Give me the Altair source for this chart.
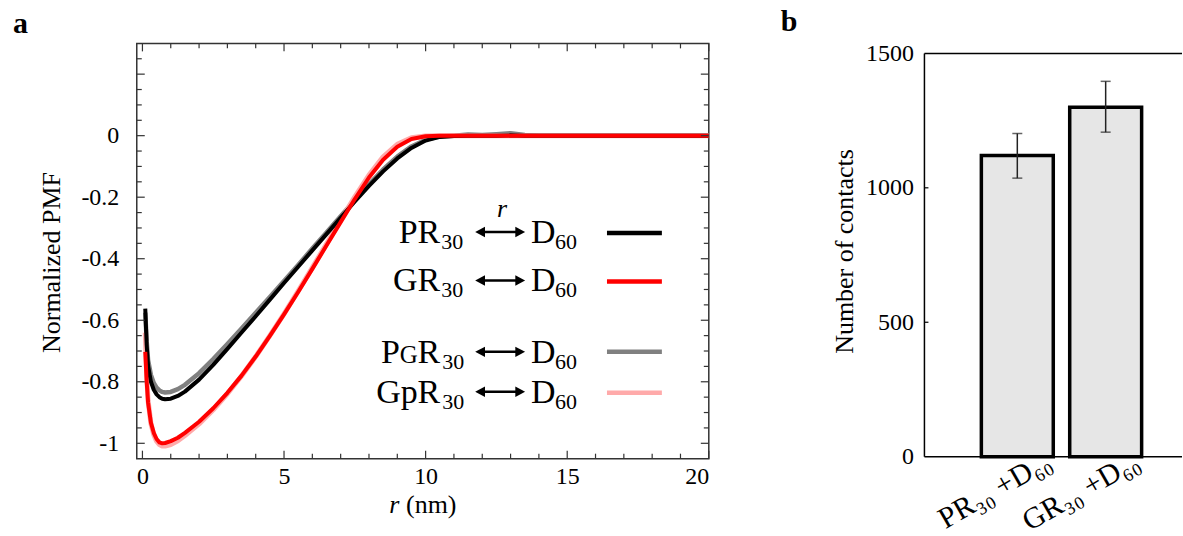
import altair as alt
import pandas as pd

# ---------------- data ----------------
r_nm = [0.1, 0.15, 0.2, 0.3, 0.4, 0.5, 0.6, 0.7, 0.8, 1.0, 1.25, 1.5, 2.0, 2.5, 3.0,
        3.5, 4.0, 4.5, 5.0, 5.5, 6.0, 6.5, 7.0, 7.5, 8.0, 8.5, 9.0, 9.5, 10.0, 10.5,
        11.0, 11.5, 12.0, 12.5, 13.0, 13.5, 14.0, 15.0, 16.0, 17.0, 18.0, 19.0, 20.0]

pmf_PR30 = [-0.562, -0.680, -0.748, -0.800, -0.826, -0.841, -0.850, -0.855, -0.857, -0.855,
            -0.846, -0.832, -0.793, -0.745, -0.693, -0.640, -0.587, -0.533, -0.479, -0.426,
            -0.373, -0.320, -0.267, -0.214, -0.163, -0.116, -0.074, -0.040, -0.016, -0.004,
            -0.001, 0.0, 0.0, 0.0, 0.001, 0.0, 0.0, 0.0, 0.0, 0.0, 0.0, 0.0, 0.0]
pmf_GR30 = [-0.703, -0.800, -0.868, -0.933, -0.966, -0.986, -0.997, -1.000, -0.999, -0.993,
            -0.982, -0.966, -0.930, -0.886, -0.836, -0.780, -0.718, -0.651, -0.581, -0.508,
            -0.433, -0.357, -0.281, -0.206, -0.136, -0.078, -0.036, -0.011, -0.002, 0.0,
            0.0, 0.0, 0.0, 0.0, 0.0, 0.0, 0.0, 0.0, 0.0, 0.0, 0.0, 0.0, 0.0]
pmf_PgR30 = [-0.575, -0.668, -0.730, -0.778, -0.804, -0.819, -0.828, -0.833, -0.835, -0.833,
             -0.824, -0.810, -0.772, -0.726, -0.677, -0.627, -0.576, -0.524, -0.472, -0.420,
             -0.367, -0.315, -0.262, -0.210, -0.158, -0.110, -0.068, -0.035, -0.013, -0.003,
             0.0, 0.004, 0.002, 0.005, 0.008, 0.002, 0.0, 0.0, 0.0, 0.0, 0.0, 0.0, 0.0]
pmf_GpR30 = [-0.640, -0.775, -0.862, -0.936, -0.972, -0.993, -1.004, -1.009, -1.009, -1.004,
             -0.992, -0.975, -0.937, -0.891, -0.839, -0.781, -0.718, -0.650, -0.579, -0.505,
             -0.429, -0.352, -0.275, -0.199, -0.128, -0.069, -0.028, -0.007, -0.001, 0.0,
             0.0, 0.0, 0.0, 0.0, 0.0, 0.0, 0.0, 0.0, 0.0, 0.0, 0.0, 0.0, 0.0]

series_names = ["PR30", "GR30", "PgR30", "GpR30"]
series_colors = ["#000000", "#ff0000", "#808080", "#ffaaaa"]

x_tick_values = [0, 1, 2, 3, 4, 5, 6, 7, 8, 9, 10, 11, 12, 13, 14, 15, 16, 17, 18, 19, 20]
x_label_values = [0, 5, 10, 15, 20]
y_tick_values = [-1.0, -0.95, -0.9, -0.85, -0.8, -0.75, -0.7, -0.65, -0.6, -0.55, -0.5,
                 -0.45, -0.4, -0.35, -0.3, -0.25, -0.2, -0.15, -0.1, -0.05, 0.0, 0.05,
                 0.1, 0.15, 0.2, 0.25]
y_major_values = [-1.0, -0.8, -0.6, -0.4, -0.2, 0.0, 0.2]
y_label_values = [-1, -0.8, -0.6, -0.4, -0.2, 0]

contact_cats = ["PR₃₀ +D₆₀", "GR₃₀ +D₆₀"]
contact_mean = [1120, 1300]
contact_lo = [1036, 1207]
contact_hi = [1202, 1396]
contact_label_values = [0, 500, 1000, 1500]
contact_inner_ticks = [500, 1000]

# legend (panel a) text
legend_prefix = [["PR"], ["GR"], ["P", "G", "R"], ["GpR"]]
legend_sub = "30"
legend_target = "D"
legend_target_sub = "60"

# ---------------- geometry / style ----------------
FONT = "Liberation Serif, Times New Roman, serif"
W_A, H_A = 573, 416
W_B, H_B = 258, 416
X_DOM = [-0.2, 20]
Y_DOM = [-1.05, 0.3]
XU = (X_DOM[1] - X_DOM[0]) / W_A   # data units per pixel
YU = (Y_DOM[1] - Y_DOM[0]) / H_A

xs = alt.Scale(domain=X_DOM, nice=False, zero=False)
ys = alt.Scale(domain=Y_DOM, nice=False, zero=False)
ax_x = alt.Axis(values=x_label_values, ticks=False, domain=False, grid=False,
                labelFont=FONT, labelFontSize=24, labelPadding=6, title=None,
                labelColor="black")
ax_y = alt.Axis(values=y_label_values, format="~g",
                labelExpr="replace(datum.label, '\u2212', '-')",
                ticks=False, domain=False, grid=False, labelFont=FONT, labelFontSize=24,
                labelPadding=18, title="Normalized PMF", titleFont=FONT, titleFontSize=26,
                titleFontWeight="normal", titlePadding=16, titleY=219, labelColor="black",
                titleColor="black")


def X(field="r"):
    return alt.X(f"{field}:Q", scale=xs, axis=ax_x)


def Y(field="v"):
    return alt.Y(f"{field}:Q", scale=ys, axis=ax_y)


series_vals = {"PR30": pmf_PR30, "GR30": pmf_GR30, "PgR30": pmf_PgR30, "GpR30": pmf_GpR30}
series_col = dict(zip(series_names, series_colors))
series_w = {"PR30": 4, "GR30": 4, "PgR30": 4.5, "GpR30": 5}

layers_a = []
for name in ["PgR30", "GpR30", "PR30", "GR30"]:
    df = pd.DataFrame({"r": r_nm, "v": series_vals[name]})
    layers_a.append(alt.Chart(df).mark_line(color=series_col[name],
                                            strokeWidth=series_w[name],
                                            strokeJoin="round", clip=True)
                    .encode(x=X(), y=Y()))

# inward ticks (mirrored on all four sides)
TICK_C = "#333333"
x_major = [t for t in x_tick_values if t in x_label_values]
x_minor = [t for t in x_tick_values if t not in x_label_values]
y_major = [t for t in y_tick_values if any(abs(t - m) < 1e-9 for m in y_major_values)]
y_minor = [t for t in y_tick_values if t not in y_major]

for vals, L in [(x_major, 8), (x_minor, 5)]:
    df = pd.DataFrame({"r": vals})
    layers_a.append(alt.Chart(df).mark_rule(color=TICK_C, strokeWidth=1.2)
                    .encode(x=X(), y=alt.value(H_A), y2=alt.value(H_A - L)))
    layers_a.append(alt.Chart(df).mark_rule(color=TICK_C, strokeWidth=1.2)
                    .encode(x=X(), y=alt.value(0), y2=alt.value(L)))
for vals, L in [(y_major, 8), (y_minor, 5)]:
    df = pd.DataFrame({"v": vals})
    layers_a.append(alt.Chart(df).mark_rule(color=TICK_C, strokeWidth=1.2)
                    .encode(y=Y(), x=alt.value(0), x2=alt.value(L)))
    layers_a.append(alt.Chart(df).mark_rule(color=TICK_C, strokeWidth=1.2)
                    .encode(y=Y(), x=alt.value(W_A), x2=alt.value(W_A - L)))

# x-axis title "r (nm)" with italic r, placed through the scales below the plot
xt_v = Y_DOM[0] - (513 - 459) * YU
df_xt_i = pd.DataFrame({"r": [X_DOM[0] + 258 * XU], "v": [xt_v], "t": ["r"]})
df_xt_n = pd.DataFrame({"r": [X_DOM[0] + 295 * XU], "v": [xt_v], "t": ["(nm)"]})
layers_a.append(alt.Chart(df_xt_i).mark_text(font=FONT, fontSize=26, fontStyle="italic",
                                             baseline="alphabetic", align="center", color="black")
                .encode(x=X(), y=Y(), text="t:N"))
layers_a.append(alt.Chart(df_xt_n).mark_text(font=FONT, fontSize=26,
                                             baseline="alphabetic", align="center", color="black")
                .encode(x=X(), y=Y(), text="t:N"))

# ---- legend ----
leg_anchor_r = X_DOM[0] + (500 - 136) * XU
leg_base_v = [Y_DOM[1] - (px - 43) * YU for px in [243, 291.5, 363, 403]]
leg_line_dy = [10, 10, 11, 10]
leg_sub_dx = [-59, -59, -58, -58]

right_rows, left_rows, sub_rows = [], [], []
for i, pref in enumerate(legend_prefix):
    b = leg_base_v[i]
    if len(pref) == 1:
        right_rows.append({"r": leg_anchor_r - 60 * XU, "v": b, "t": pref[0], "s": 34})
    else:
        right_rows.append({"r": leg_anchor_r - 60 * XU, "v": b, "t": pref[2], "s": 34})
        right_rows.append({"r": leg_anchor_r - 82.5 * XU, "v": b, "t": pref[1], "s": 25})
        right_rows.append({"r": leg_anchor_r - 100.5 * XU, "v": b, "t": pref[0], "s": 34})
    sub_rows.append({"r": leg_anchor_r + leg_sub_dx[i] * XU, "v": b - 6 * YU, "t": legend_sub, "s": 22})
    left_rows.append({"r": leg_anchor_r + 31 * XU, "v": b, "t": legend_target, "s": 34})
    sub_rows.append({"r": leg_anchor_r + 55 * XU, "v": b - 6 * YU, "t": legend_target_sub, "s": 22})

layers_a.append(alt.Chart(pd.DataFrame(right_rows)).mark_text(font=FONT, align="right",
                                                               baseline="alphabetic", color="black")
                .encode(x=X(), y=Y(), text="t:N", size=alt.Size("s:Q", scale=None)))
layers_a.append(alt.Chart(pd.DataFrame(left_rows + sub_rows)).mark_text(font=FONT, align="left",
                                                                          baseline="alphabetic", color="black")
                .encode(x=X(), y=Y(), text="t:N", size=alt.Size("s:Q", scale=None)))

arrow_v = [b + 11 * YU for b in leg_base_v]
df_shaft = pd.DataFrame({"r": [leg_anchor_r - 18 * XU] * 4, "r2": [leg_anchor_r + 18 * XU] * 4, "v": arrow_v})
layers_a.append(alt.Chart(df_shaft).mark_rule(color="black", strokeWidth=2.5)
                .encode(x=X(), x2="r2:Q", y=Y()))
df_hl = pd.DataFrame({"r": [leg_anchor_r - 25 * XU] * 4, "v": arrow_v})
df_hr = pd.DataFrame({"r": [leg_anchor_r + 25 * XU] * 4, "v": arrow_v})
layers_a.append(alt.Chart(df_hl).mark_point(shape="M0,0L1.6,-0.85L1.6,0.85Z", size=150, filled=True,
                                            color="black", opacity=1)
                .encode(x=X(), y=Y()))
layers_a.append(alt.Chart(df_hr).mark_point(shape="M0,0L-1.6,-0.85L-1.6,0.85Z", size=150, filled=True,
                                            color="black", opacity=1)
                .encode(x=X(), y=Y()))

df_r = pd.DataFrame({"r": [leg_anchor_r + 2 * XU], "v": [Y_DOM[1] - (217 - 43) * YU], "t": ["r"]})
layers_a.append(alt.Chart(df_r).mark_text(font=FONT, fontSize=26, fontStyle="italic",
                                          baseline="alphabetic", align="center", color="black")
                .encode(x=X(), y=Y(), text="t:N"))

# legend sample lines
leg_line_v = [b + d * YU for b, d in zip(leg_base_v, leg_line_dy)]
df_ll = pd.DataFrame({"r": [X_DOM[0] + (607 - 136) * XU] * 4,
                      "r2": [X_DOM[0] + (662 - 136) * XU] * 4,
                      "v": leg_line_v, "name": series_names})
layers_a.append(alt.Chart(df_ll).mark_rule(strokeWidth=4.5)
                .encode(x=X(), x2="r2:Q", y=Y(),
                        color=alt.Color("name:N", scale=alt.Scale(domain=series_names, range=series_colors),
                                        legend=None)))

panel_a = alt.layer(*layers_a).properties(
    width=W_A, height=H_A,
    view=alt.ViewBackground(stroke="#333333", strokeWidth=1.5),
    title=alt.TitleParams(text="a", anchor="start", frame="group", dx=-124, offset=4,
                          fontSize=30, fontWeight="bold", font=FONT, color="black"),
)

# ---------------- panel b ----------------
df_b = pd.DataFrame({"cat": contact_cats, "n": contact_mean, "lo": contact_lo, "hi": contact_hi})
yb = alt.Scale(domain=[-7.4, 1537.2], nice=False, zero=False)
ax_by = alt.Axis(values=contact_label_values, format="d", ticks=False, domain=False, grid=False,
                 labelFont=FONT, labelFontSize=24, labelPadding=11, title="Number of contacts",
                 titleFont=FONT, titleFontSize=26, titleFontWeight="normal", titlePadding=8,
                 labelColor="black", titleColor="black")
xb = alt.Scale(domain=contact_cats, paddingInner=0.186, paddingOuter=0.5506, align=0.585)
ax_bx = alt.Axis(labelAngle=330, labelAlign="right", labelBaseline="top", labelOffset=24,
                 labelPadding=-13, labelFont=FONT, labelFontSize=30, ticks=False, domain=False,
                 title=None, labelLimit=400, grid=False, labelColor="black")


def XB():
    return alt.X("cat:N", scale=xb, axis=ax_bx, sort=contact_cats)


def YB(field="n"):
    return alt.Y(f"{field}:Q", scale=yb, axis=ax_by)


bars = alt.Chart(df_b).mark_bar(fill="#e6e6e6", stroke="black", strokeWidth=3.5).encode(
    x=XB(), y=YB(), y2=alt.datum(0))
err = alt.Chart(df_b).mark_rule(color="#222222", strokeWidth=1.5).encode(x=XB(), y=YB("lo"), y2="hi:Q")
cap_lo = alt.Chart(df_b).mark_tick(color="#222222", thickness=1.5, size=10).encode(x=XB(), y=YB("lo"))
cap_hi = alt.Chart(df_b).mark_tick(color="#222222", thickness=1.5, size=10).encode(x=XB(), y=YB("hi"))

df_frame = pd.DataFrame({"n": [0, 1500]})
frame_h = alt.Chart(df_frame).mark_rule(color="black", strokeWidth=1.5).encode(
    y=YB(), x=alt.value(0), x2=alt.value(W_B))
frame_v = alt.Chart(pd.DataFrame({"n": [0], "n2": [1500]})).mark_rule(color="black", strokeWidth=1.5).encode(
    y=YB(), y2="n2:Q", x=alt.value(0))
inner_t = alt.Chart(pd.DataFrame({"n": contact_inner_ticks})).mark_rule(color="black", strokeWidth=1.2).encode(
    y=YB(), x=alt.value(0), x2=alt.value(4))

panel_b = alt.layer(bars, err, cap_lo, cap_hi, frame_h, frame_v, inner_t).properties(
    width=W_B, height=H_B,
    view=alt.ViewBackground(strokeWidth=0, stroke="transparent"),
    title=alt.TitleParams(text="b", anchor="start", frame="group", dx=-144, offset=4,
                          fontSize=30, fontWeight="bold", font=FONT, color="black"),
)

chart = alt.hconcat(panel_a, panel_b, spacing=216, bounds="flush").properties(
    padding={"left": 12, "top": 7, "right": 0, "bottom": 0},
    background="white",
).configure(
    font=FONT,
    view=alt.ViewConfig(strokeWidth=0, stroke="transparent"),
    axis=alt.AxisConfig(labelFont=FONT, titleFont=FONT, labelColor="black", titleColor="black"),
    text=alt.MarkConfig(font=FONT),
    title=alt.TitleConfig(font=FONT),
)

chart.save("out.html", embed_options={"renderer": "svg", "actions": False})
